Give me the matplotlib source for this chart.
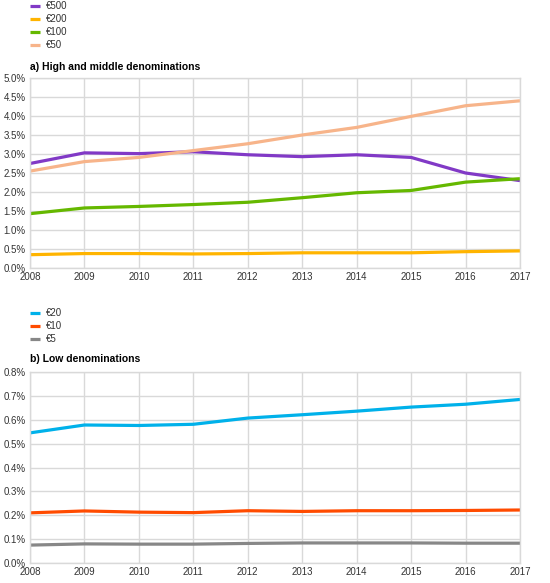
import matplotlib
matplotlib.use("Agg")
import matplotlib.pyplot as plt
from matplotlib.ticker import FuncFormatter

plt.rcParams['font.family'] = ['Liberation Sans', 'DejaVu Sans']

years = [2008, 2009, 2010, 2011, 2012, 2013, 2014, 2015, 2016, 2017]

# panel a) high and middle denominations (%)
eur500 = [2.75, 3.03, 3.01, 3.06, 2.98, 2.93, 2.98, 2.91, 2.50, 2.30]
eur200 = [0.35, 0.38, 0.38, 0.37, 0.38, 0.40, 0.40, 0.40, 0.43, 0.45]
eur100 = [1.43, 1.58, 1.62, 1.67, 1.73, 1.85, 1.98, 2.04, 2.26, 2.35]
eur50 = [2.55, 2.80, 2.91, 3.09, 3.27, 3.50, 3.70, 3.99, 4.27, 4.40]

# panel b) low denominations (%)
eur20 = [0.545, 0.578, 0.576, 0.581, 0.607, 0.621, 0.636, 0.653, 0.665, 0.685]
eur10 = [0.210, 0.218, 0.213, 0.211, 0.219, 0.216, 0.219, 0.219, 0.220, 0.222]
eur5 = [0.075, 0.080, 0.079, 0.079, 0.082, 0.084, 0.084, 0.084, 0.083, 0.083]

top_series = [("€500", eur500, "#8139c6"), ("€200", eur200, "#ffb400"),
              ("€100", eur100, "#65b800"), ("€50", eur50, "#f7b48a")]
bot_series = [("€20", eur20, "#00b1ea"), ("€10", eur10, "#ff4b00"),
              ("€5", eur5, "#878787")]

fig = plt.figure(figsize=(5.5, 5.83), dpi=100)
W, H = 550, 583


def make_axes(top_px, bot_px):
    return fig.add_axes([30 / W, 1 - bot_px / H, 490 / W, (bot_px - top_px) / H])


def style(ax, ymax, step, fmt):
    ax.set_xlim(years[0], years[-1])
    ax.set_ylim(0, ymax)
    ax.set_xticks(years)
    n = int(round(ymax / step))
    ax.set_yticks([i * step for i in range(n + 1)])
    ax.yaxis.set_major_formatter(FuncFormatter(lambda v, p: fmt.format(v)))
    ax.grid(True, color="#d9d9d9", linewidth=1.0)
    ax.set_axisbelow(True)
    for s in ax.spines.values():
        s.set_color("#d9d9d9")
        s.set_linewidth(1.0)
    ax.tick_params(length=0, labelsize=7, colors="#333333", pad=3)


def add_legend(ax, top_px):
    ax.legend(loc="upper left", bbox_to_anchor=(30 / W, 1 - top_px / H),
              bbox_transform=fig.transFigure, frameon=False, fontsize=7,
              handlelength=1.05, handletextpad=0.6, labelspacing=0.32,
              borderpad=0, borderaxespad=0, labelcolor="#333333")


ax1 = make_axes(78, 268)
for name, vals, c in top_series:
    ax1.plot(years, vals, color=c, linewidth=2.3, label=name, solid_capstyle="butt")
style(ax1, 5.0, 0.5, "{:.1f}%")
ax1.set_title("a) High and middle denominations", loc="left", fontsize=7.5,
              fontweight="bold", pad=6)
add_legend(ax1, 1)

ax2 = make_axes(372, 563)
for name, vals, c in bot_series:
    ax2.plot(years, vals, color=c, linewidth=2.3, label=name, solid_capstyle="butt")
style(ax2, 0.8, 0.1, "{:.1f}%")
ax2.set_title("b) Low denominations", loc="left", fontsize=7.5,
              fontweight="bold", pad=7)
add_legend(ax2, 308)

fig.savefig("out.png", dpi=100)
